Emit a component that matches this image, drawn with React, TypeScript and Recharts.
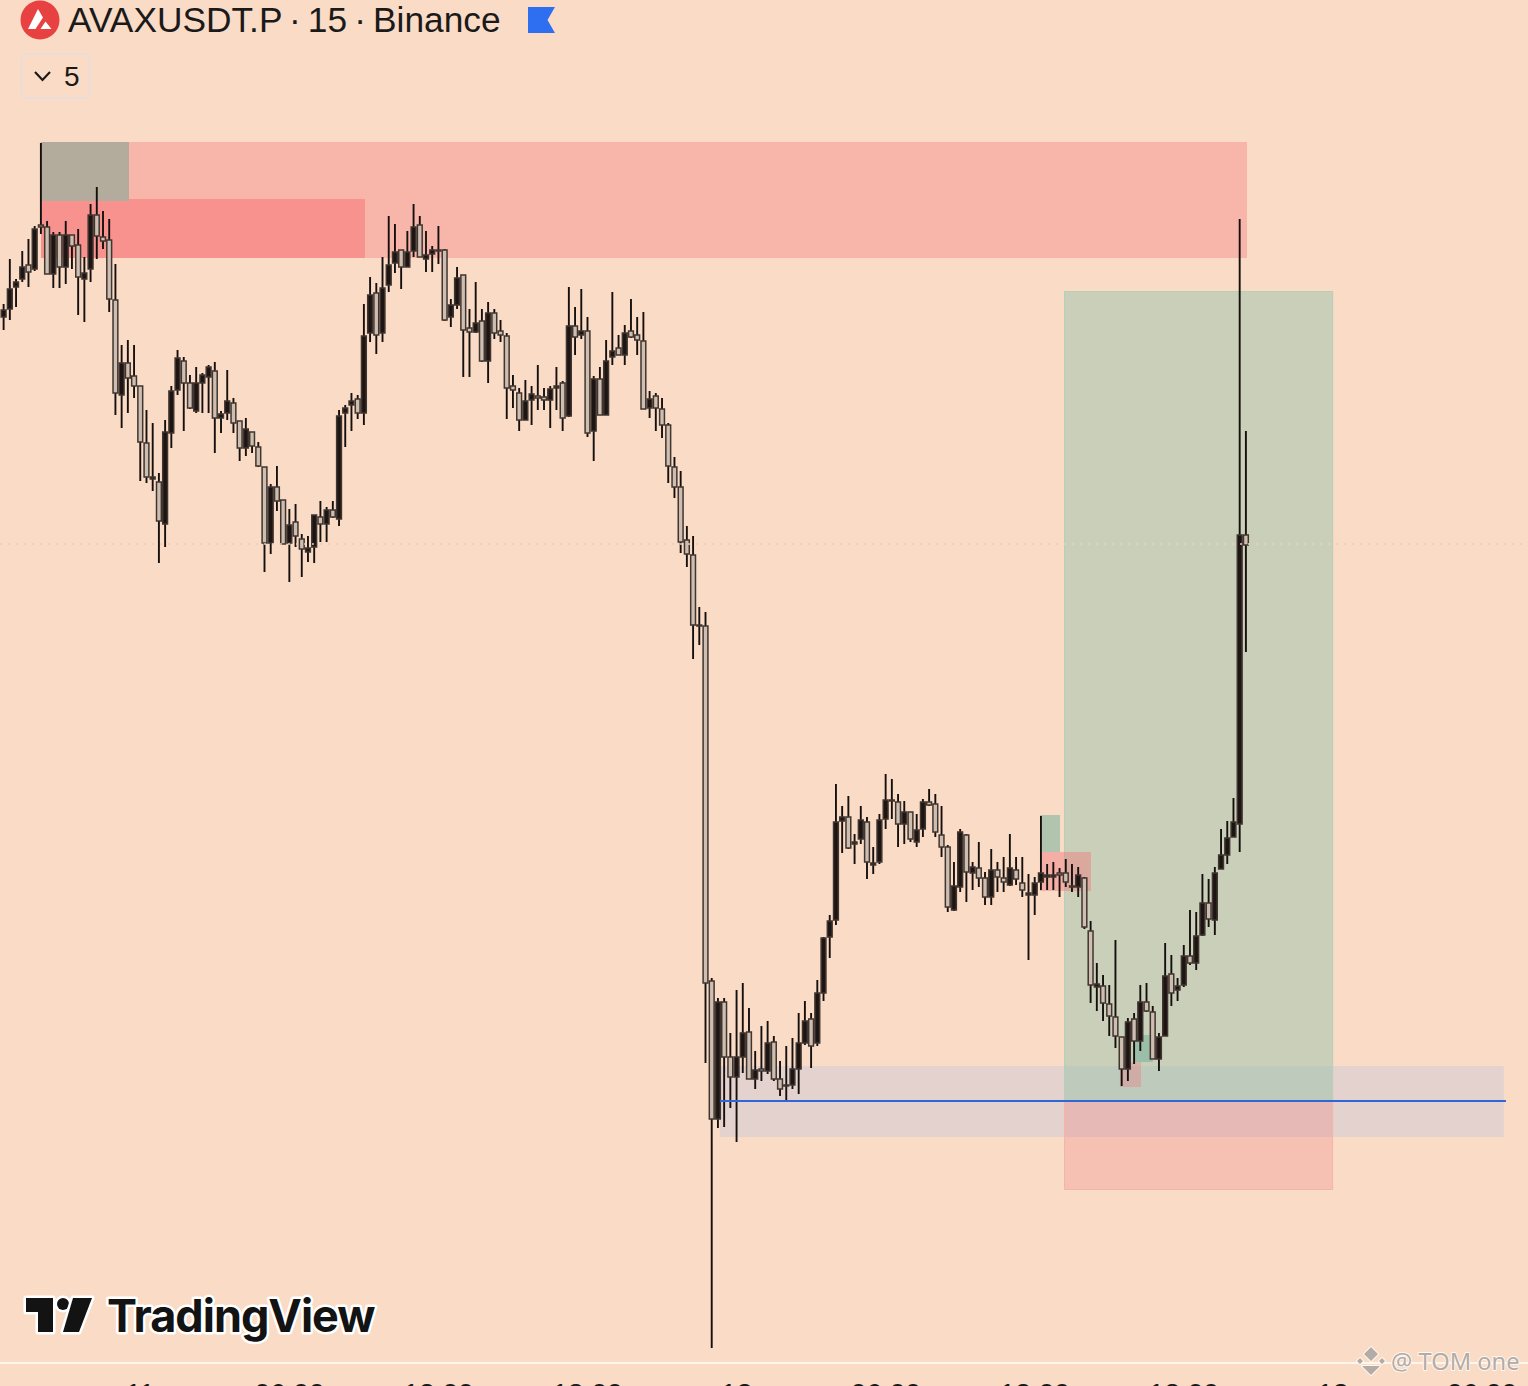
import { Bar, ComposedChart, ReferenceArea, ReferenceLine, XAxis, YAxis } from 'recharts'

const highs = [
  1082, 1127, 1107, 1135, 1147, 1160, 1243, 1165, 1154, 1154, 1165, 1151, 1157, 1129, 1182, 1199, 1175, 1167, 1122, 1041,
  1046, 1041, 1000, 976, 963, 913, 966, 1000, 1036, 1029, 1011, 1019, 1013, 1021, 1024, 975, 1016, 988, 965, 968,
  954, 944, 919, 902, 920, 886, 877, 882, 852, 850, 871, 885, 879, 885, 976, 981, 993, 991, 1082, 1109,
  1103, 1129, 1170, 1162, 1136, 1155, 1182, 1170, 1155, 1140, 1160, 1137, 1087, 1119, 1111, 1077, 1104, 1077, 1084, 1077,
  1066, 1053, 1011, 998, 1006, 1000, 1021, 998, 1000, 1019, 1005, 1099, 1079, 1097, 1069, 1010, 1019, 1046, 1094, 1051,
  1061, 1087, 1069, 1074, 995, 993, 988, 963, 929, 915, 860, 850, 779, 774, 408, 388, 388, 353, 396, 403,
  378, 335, 360, 365, 350, 325, 340, 348, 373, 385, 373, 406, 449, 471, 602, 580, 590, 552, 580, 569,
  539, 572, 612, 607, 592, 585, 574, 572, 587, 597, 592, 580, 541, 524, 557, 552, 524, 544, 514, 537,
  524, 529, 552, 529, 529, 512, 509, 570, 522, 524, 518, 527, 522, 519, 509, 465, 423, 411, 401, 446,
  349, 368, 373, 401, 403, 380, 353, 443, 431, 408, 441, 476, 474, 512, 507, 519, 557, 565, 588, 1167,
  955,
]
const lows = [
  1056, 1066, 1079, 1104, 1099, 1115, 1152, 1112, 1098, 1098, 1102, 1117, 1071, 1064, 1104, 1127, 1137, 1074, 971, 958,
  973, 988, 905, 903, 895, 823, 839, 938, 991, 955, 977, 973, 973, 973, 933, 953, 966, 953, 925, 930,
  933, 919, 814, 832, 875, 842, 804, 839, 809, 824, 823, 844, 844, 868, 860, 939, 955, 967, 961, 1044,
  1032, 1044, 1094, 1113, 1097, 1119, 1129, 1129, 1114, 1114, 1122, 1065, 1059, 1077, 1009, 1009, 1053, 1024, 1003, 1047,
  1044, 967, 978, 955, 966, 961, 976, 976, 958, 976, 955, 969, 1031, 1047, 949, 925, 971, 971, 1021, 1031,
  1021, 1048, 1031, 977, 968, 955, 948, 903, 888, 833, 819, 727, 741, 323, 38, 258, 259, 278, 244, 313,
  307, 297, 305, 312, 305, 290, 285, 297, 292, 341, 318, 340, 385, 428, 461, 533, 537, 522, 542, 507,
  512, 522, 557, 567, 539, 542, 544, 539, 549, 580, 549, 529, 474, 475, 494, 484, 496, 499, 481, 481,
  494, 494, 500, 501, 489, 426, 471, 496, 496, 496, 489, 499, 494, 489, 457, 383, 375, 365, 350, 338,
  300, 305, 322, 335, 374, 327, 315, 350, 380, 385, 399, 421, 416, 450, 459, 451, 517, 522, 549, 534,
  734,
]
const opens = [
  1069, 1077, 1099, 1107, 1121, 1117, 1161, 1159, 1112, 1151, 1119, 1151, 1141, 1107, 1117, 1171, 1149, 1146, 1086, 991,
  1023, 1010, 1000, 943, 907, 904, 862, 953, 996, 1025, 1003, 975, 1003, 1009, 1015, 968, 973, 983, 965, 938,
  954, 939, 919, 843, 899, 886, 843, 864, 847, 834, 839, 869, 862, 876, 867, 973, 981, 987, 973, 1053,
  1093, 1053, 1101, 1123, 1136, 1119, 1135, 1161, 1127, 1132, 1135, 1136, 1069, 1081, 1111, 1058, 1054, 1065, 1025, 1073,
  1055, 1050, 1000, 993, 966, 986, 990, 989, 986, 998, 1003, 970, 1060, 1051, 1055, 955, 1007, 971, 1029, 1038,
  1031, 1055, 1051, 1045, 978, 990, 977, 961, 919, 899, 846, 831, 760, 760, 405, 267, 384, 329, 309, 329,
  354, 307, 317, 315, 344, 307, 300, 301, 317, 343, 367, 343, 393, 449, 466, 565, 569, 542, 547, 564,
  521, 524, 567, 585, 584, 562, 574, 544, 557, 584, 582, 551, 539, 476, 499, 551, 513, 518, 508, 489,
  516, 508, 501, 516, 503, 491, 491, 504, 509, 509, 513, 513, 499, 499, 508, 455, 399, 400, 382, 369,
  349, 317, 367, 345, 384, 374, 327, 350, 412, 396, 401, 430, 423, 451, 483, 466, 517, 531, 549, 562,
  851,
]
const closes = [
  1076, 1097, 1104, 1119, 1114, 1157, 1159, 1112, 1151, 1119, 1151, 1140, 1109, 1113, 1171, 1150, 1145, 1087, 993, 1023,
  1008, 1000, 944, 909, 909, 865, 954, 995, 1028, 1003, 978, 1003, 1011, 1019, 968, 972, 985, 963, 938, 957,
  940, 920, 843, 899, 885, 842, 861, 850, 837, 838, 871, 862, 876, 869, 970, 978, 985, 973, 1050, 1091,
  1051, 1098, 1121, 1134, 1119, 1134, 1159, 1129, 1131, 1136, 1136, 1066, 1081, 1108, 1056, 1054, 1063, 1025, 1073, 1053,
  1051, 998, 996, 966, 985, 992, 988, 986, 997, 1000, 968, 1060, 1049, 1055, 953, 1007, 971, 1025, 1035, 1031,
  1053, 1049, 1046, 977, 987, 978, 961, 920, 899, 844, 832, 761, 761, 403, 267, 384, 329, 309, 329, 353,
  307, 316, 315, 343, 307, 297, 301, 317, 343, 365, 340, 393, 448, 465, 564, 569, 538, 544, 566, 524,
  523, 566, 586, 586, 562, 574, 547, 556, 584, 581, 554, 539, 479, 500, 554, 514, 519, 508, 489, 516,
  509, 504, 518, 507, 496, 493, 503, 513, 511, 511, 511, 504, 500, 511, 459, 401, 402, 383, 370, 350,
  317, 364, 345, 384, 375, 327, 349, 410, 393, 400, 430, 423, 450, 483, 467, 513, 531, 548, 564, 851,
  841,
]

const tickBars = [22, 46, 70, 94, 118, 142, 166, 190, 214, 238]
const tickLabels = ['11', '06:00', '12:00', '18:00', '12', '06:00', '12:00', '18:00', '13', '06:00']

const rows = highs.map((high, i) => ({ bar: i, high, low: lows[i], open: opens[i], close: closes[i] }))

const BG = '#fadbc6'
const halo = { stroke: '#ffffff', strokeWidth: 5, strokeLinejoin: 'round', paintOrder: 'stroke fill' } as const

function Candle(props: any) {
  const { x, y, width, height, payload } = props
  const { high, low, open, close } = payload
  const unit = height / (high - low)
  const cx = x + width / 2
  const top = y + (high - Math.max(open, close)) * unit
  const bodyH = Math.max(Math.abs(open - close) * unit, 1)
  const rising = close > open
  return (
    <g>
      <line x1={cx} x2={cx} y1={y} y2={y + height} stroke="#15100e" strokeWidth={1.9} />
      <rect
        x={x + 0.6}
        y={top}
        width={width - 1.2}
        height={bodyH}
        fill={rising ? '#1c1513' : '#cdbeb1'}
        stroke="#40352f"
        strokeWidth={1.5}
      />
    </g>
  )
}

function Header() {
  return (
    <svg width={1528} height={1386} style={{ position: 'absolute', left: 0, top: 0, pointerEvents: 'none' }}>
      <circle cx={40} cy={20} r={19.5} fill="#e84142" />
      <path d="M38 9 L43 17.5 L35.5 29 L28 29 Z" fill="#fff" />
      <path d="M45.5 21.5 L51.5 29 L40.5 29 Z" fill="#fff" />
      <text x={68} y={32} fontFamily="Liberation Sans" fontSize={35.3} wordSpacing={-2.7} fill="#1a1a1a">
        AVAXUSDT.P · 15 · Binance
      </text>
      <path d="M528 7 H555 L547.5 20 L555 33 H528 Z" fill="#2e6ff2" />
      <rect x={21.5} y={54} width={68} height={44} rx={5} fill="none" stroke="#e9dcd9" strokeWidth={2} />
      <path d="M35 72 L42.5 80 L50 72" fill="none" stroke="#1a1a1a" strokeWidth={2.2} />
      <text x={64} y={86} fontFamily="Liberation Sans" fontSize={28} fill="#1a1a1a">
        5
      </text>

      <path style={halo} fill="#131313" d="M26 1298 H53 V1332 H38 V1312 H26 Z" />
      <circle style={halo} fill="#131313" cx={63} cy={1304} r={6} />
      <path style={halo} fill="#131313" d="M73 1298 H92 L79 1332 H63 Z" />
      <text style={halo} fill="#131313" x={107} y={1332} fontFamily="Inter" fontWeight={700} fontSize={45} letterSpacing={-1}>
        TradingView
      </text>

      <path
        style={{ ...halo, strokeWidth: 2, stroke: '#fff6ee' }}
        fill="#b3aca6"
        d="M1371 1347 L1378 1354 L1371 1361 L1364 1354 Z M1360 1358 L1363 1361 L1360 1364 L1357 1361 Z M1382 1358 L1385 1361 L1382 1364 L1379 1361 Z M1371 1366 L1380 1366 L1371 1375 L1362 1366 Z"
      />
      <text style={{ ...halo, strokeWidth: 2, stroke: '#fff6ee' }} fill="#b3aca6" x={1391} y={1370} fontFamily="Noto Sans" fontSize={23.7}>
        @ TOM one
      </text>
    </svg>
  )
}

export default function App() {
  return (
    <div style={{ position: 'absolute', left: 0, top: 0, width: 1528, height: 1386, overflow: 'hidden', background: BG }}>
      <ComposedChart width={1528} height={1386} data={rows} margin={{ top: 0, right: 0, bottom: 0, left: 0 }}>
        <XAxis
          dataKey="bar"
          type="number"
          domain={[-0.6, 245.4]}
          ticks={tickBars}
          interval={0}
          height={23}
          axisLine={{ stroke: '#fff6ee', strokeWidth: 2 }}
          tickLine={false}
          tickMargin={14}
          tick={{ fontSize: 28, fill: '#1a1a1a', fontFamily: 'Liberation Sans' }}
          tickFormatter={(v: number) => tickLabels[tickBars.indexOf(v)]}
          allowDataOverflow
        />
        <YAxis hide type="number" domain={[23, 1386]} allowDataOverflow />

        <ReferenceLine y={842} stroke="#f0cdb4" strokeDasharray="2 6" strokeWidth={1.5} />

        <ReferenceArea x1={6} x2={200.16} y1={1128} y2={1244} fill="rgb(245,124,128)" fillOpacity={0.4} stroke="none" />
        <ReferenceArea x1={6} x2={58.16} y1={1128} y2={1187} fill="rgb(248,100,110)" fillOpacity={0.43} stroke="none" />
        <ReferenceArea x1={6} x2={20.17} y1={1185} y2={1244} fill="#b3ab9b" fillOpacity={1} stroke="none" />

        <ReferenceArea x1={115.3} x2={241.5} y1={249} y2={320} fill="rgb(177,189,221)" fillOpacity={0.3} stroke="none" />
        <ReferenceArea x1={170.78} x2={213.95} y1={285} y2={1094.5} fill="rgb(143,192,169)" fillOpacity={0.45} stroke="#b7cfb6" strokeWidth={1} />
        <ReferenceArea x1={170.78} x2={213.95} y1={196.5} y2={285} fill="rgb(237,129,131)" fillOpacity={0.3} stroke="#f4b5a8" strokeWidth={1} />

        <ReferenceArea x1={166.83} x2={170.05} y1={534} y2={571} fill="rgb(114,177,154)" fillOpacity={0.55} stroke="none" />
        <ReferenceArea x1={166.83} x2={175.04} y1={495} y2={534} fill="rgb(240,120,125)" fillOpacity={0.45} stroke="none" />
        <ReferenceArea x1={182.1} x2={185} y1={324} y2={351} fill="rgb(114,177,154)" fillOpacity={0.55} stroke="none" />
        <ReferenceArea x1={179.7} x2={183.1} y1={299} y2={324} fill="rgb(240,120,125)" fillOpacity={0.35} stroke="none" />

        <ReferenceLine
          segment={[
            { x: 115.3, y: 285 },
            { x: 241.85, y: 285 },
          ]}
          stroke="#2f66d8"
          strokeWidth={2}
        />

        <Bar
          dataKey={(d: any) => [d.low, d.high]}
          barSize={6}
          shape={(p: any) => <Candle {...p} />}
          isAnimationActive={false}
        />
      </ComposedChart>
      <Header />
    </div>
  )
}
